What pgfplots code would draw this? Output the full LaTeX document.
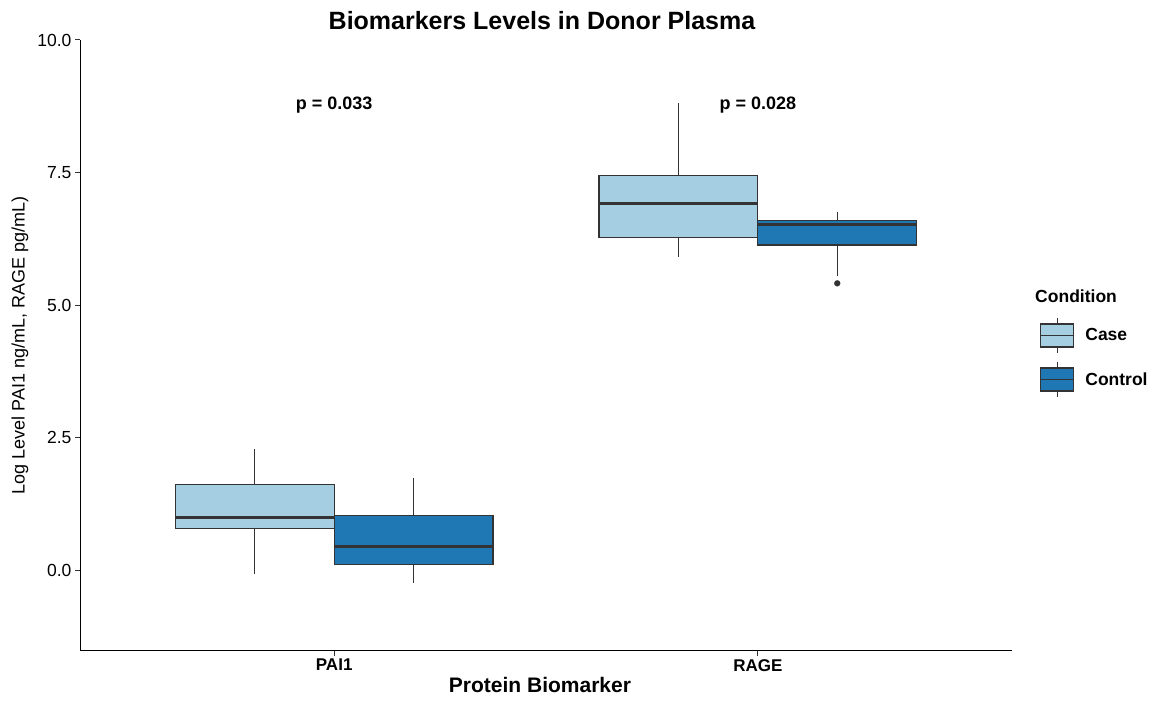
\documentclass[border=0pt]{standalone}
\usepackage{fontspec}
\setmainfont{Liberation Sans}
\usepackage{pgfplots}
\pgfplotsset{compat=1.18}
\usepgfplotslibrary{statistics}
\definecolor{caseblue}{HTML}{A6CEE3}
\definecolor{ctrlblue}{HTML}{1F78B4}
\definecolor{c333}{HTML}{333333}
\begin{document}
\begin{tikzpicture}
\useasboundingbox (0,0) rectangle (1161pt,703pt);
\begin{axis}[
  at={(80pt,52.3pt)}, anchor=south west,
  scale only axis, width=932pt, height=610.7pt,
  xmin=0.4, xmax=2.6, ymin=-1.52, ymax=10,
  axis lines*=left,
  axis line style={line width=1pt, black},
  tick align=outside,
  major tick length=5pt,
  tick style={line width=1pt, c333},
  xtick={1,2}, xticklabels={PAI1,RAGE},
  ytick={0,2.5,5,7.5,10}, yticklabels={0.0,2.5,5.0,7.5,10.0},
  xticklabel style={font=\fontsize{17}{20}\selectfont\bfseries, black},
  yticklabel style={font=\fontsize{17.5}{20}\selectfont, black},
  xlabel={Protein Biomarker},
  xlabel style={font=\fontsize{21}{24}\selectfont\bfseries, at={(axis description cs:0.5,0)}, anchor=base, yshift=-42.3pt, xshift=-6pt},
  ylabel={Log Level PAI1 ng/mL, RAGE pg/mL)},
  ylabel style={font=\fontsize{18}{20}\selectfont, at={(axis description cs:0,0.5)}, anchor=center, yshift=60pt},
  title={Biomarkers Levels in Donor Plasma},
  title style={font=\fontsize{25}{28}\selectfont\bfseries, at={(axis description cs:0.5,1)}, anchor=base, yshift=4pt, xshift=-4pt},
  legend style={at={(axis description cs:1.03,0.546)}, anchor=north west, draw=none, fill=none, inner sep=0pt,
    font=\fontsize{17.5}{20}\selectfont\bfseries, row sep=8pt,
    /tikz/every odd column/.append style={column sep=9pt}},
  legend cell align=left,
  boxplot/draw direction=y,
  boxplot/every median/.style={line width=2.8pt},
  boxplot/every whisker/.style={line width=1.1pt},
  boxplot/every box/.style={line width=1.3pt},
  clip=false,
]
\addplot[boxplot prepared={draw position=0.8125, box extend=0.375,
    lower whisker=-0.075, lower quartile=0.79, median=0.99, upper quartile=1.62, upper whisker=2.28, whisker extend=0},
  draw=c333, fill=caseblue, line width=1.3pt, forget plot] coordinates {};
\addplot[boxplot prepared={draw position=1.1875, box extend=0.375,
    lower whisker=-0.24, lower quartile=0.11, median=0.45, upper quartile=1.03, upper whisker=1.73, whisker extend=0},
  draw=c333, fill=ctrlblue, line width=1.3pt, forget plot] coordinates {};
\addplot[boxplot prepared={draw position=1.8125, box extend=0.375,
    lower whisker=5.90, lower quartile=6.28, median=6.91, upper quartile=7.45, upper whisker=8.82, whisker extend=0},
  draw=c333, fill=caseblue, line width=1.3pt, forget plot] coordinates {};
\addplot[boxplot prepared={draw position=2.1875, box extend=0.375,
    lower whisker=5.55, lower quartile=6.13, median=6.52, upper quartile=6.59, upper whisker=6.75, whisker extend=0},
  draw=c333, fill=ctrlblue, line width=1.3pt,
  mark=*, mark size=3pt, mark options={solid, fill=c333, draw=c333, line width=0.2pt}, forget plot]
  table[row sep=\\, y index=0] {y\\ 5.41\\};

\addlegendimage{legend image code/.code={
  \draw[line width=1.2pt, c333, fill=caseblue] (0pt,-11.5pt) rectangle (33pt,11.5pt);
  \draw[line width=1.2pt, c333] (0pt,0pt) -- (33pt,0pt);
  \draw[line width=1.1pt, c333] (16.5pt,11.5pt) -- (16.5pt,17.5pt) (16.5pt,-11.5pt) -- (16.5pt,-17.5pt);
}}
\addlegendentry{Case}
\addlegendimage{legend image code/.code={
  \draw[line width=1.2pt, c333, fill=ctrlblue] (0pt,-11.5pt) rectangle (33pt,11.5pt);
  \draw[line width=1.2pt, c333] (0pt,0pt) -- (33pt,0pt);
  \draw[line width=1.1pt, c333] (16.5pt,11.5pt) -- (16.5pt,17.5pt) (16.5pt,-11.5pt) -- (16.5pt,-17.5pt);
}}
\addlegendentry{Control}

\node[font=\fontsize{18}{20}\selectfont\bfseries] at (axis cs:1,8.78) {p = 0.033};
\node[font=\fontsize{18}{20}\selectfont\bfseries] at (axis cs:2,8.78) {p = 0.028};
\node[font=\fontsize{17.5}{20}\selectfont\bfseries, anchor=west, inner sep=0pt] at (axis description cs:1.0247,0.581) {Condition};
\end{axis}
\end{tikzpicture}
\end{document}
